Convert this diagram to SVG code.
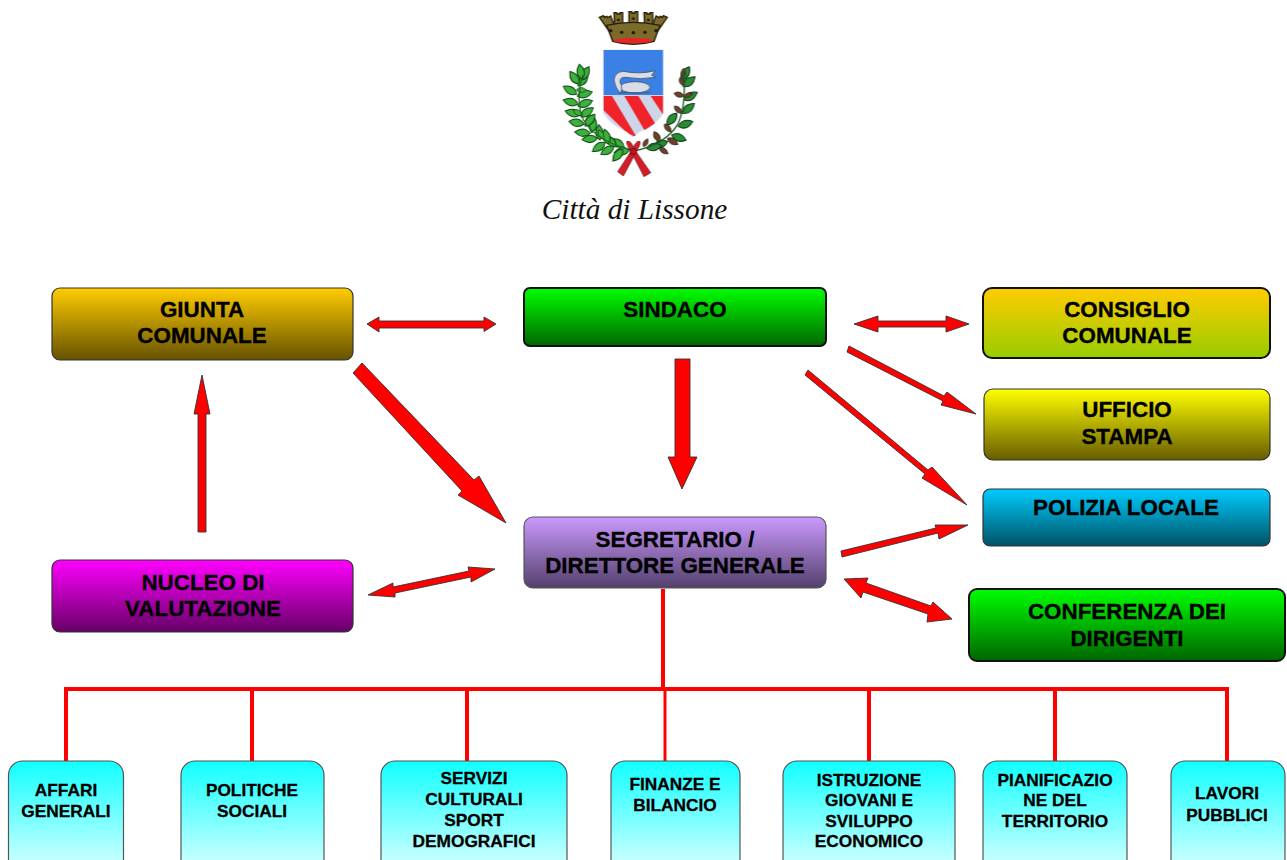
<svg xmlns="http://www.w3.org/2000/svg" width="1287" height="860" viewBox="0 0 1287 860">
<style>
.n{stroke:#333;stroke-width:1.2}
.d{stroke:#111;stroke-width:2}
.c{stroke:#555;stroke-width:1.2}
.t{font-family:"Liberation Sans",Arial,sans-serif;font-weight:700;font-size:22.4px;fill:#000;stroke:#000;stroke-width:.35;text-anchor:middle}
.s{font-size:17.300px;stroke-width:.3}
.a{fill:#f00;stroke:#333;stroke-width:.9;stroke-linejoin:miter}
.w{fill:none;stroke:#f00;stroke-width:4}
.lg{fill:#3cb03c;stroke:#0d4a12;stroke-width:3}
.lb{fill:#6e3f2a;stroke:#1f2c18;stroke-width:3}
.ld{fill:#2c8a34;stroke:#0f3d18;stroke-width:3}
.tw{fill:#7c6a2b;stroke:#241e08;stroke-width:4}
</style>
<defs>
<linearGradient id="g1" x1="0" y1="0" x2="0" y2="1"><stop offset="0" stop-color="#fc0"/><stop offset="1" stop-color="#665200"/></linearGradient>
<linearGradient id="g2" x1="0" y1="0" x2="0" y2="1"><stop offset="0" stop-color="#0f0"/><stop offset="1" stop-color="#060"/></linearGradient>
<linearGradient id="g3" x1="0" y1="0" x2="0" y2="1"><stop offset="0" stop-color="#fc0"/><stop offset="1" stop-color="#9c0"/></linearGradient>
<linearGradient id="g4" x1="0" y1="0" x2="0" y2="1"><stop offset="0" stop-color="#ff0"/><stop offset="1" stop-color="#665c00"/></linearGradient>
<linearGradient id="g5" x1="0" y1="0" x2="0" y2="1"><stop offset="0" stop-color="#0cf"/><stop offset="1" stop-color="#005266"/></linearGradient>
<linearGradient id="g6" x1="0" y1="0" x2="0" y2="1"><stop offset="0" stop-color="#c9f"/><stop offset="1" stop-color="#52406b"/></linearGradient>
<linearGradient id="g7" x1="0" y1="0" x2="0" y2="1"><stop offset="0" stop-color="#f0f"/><stop offset="1" stop-color="#606"/></linearGradient>
<linearGradient id="g8" x1="0" y1="0" x2="0" y2="1"><stop offset="0" stop-color="#1ff"/><stop offset=".86" stop-color="#c4ffff"/></linearGradient>
<clipPath id="sh"><path d="M190,150H370V340Q345,380 300,395L280,412L260,395Q215,378 190,340Z"/></clipPath>
<path id="l" d="M0,0Q20,-22 46,0Q20,22 0,0Z"/>
<filter id="b" x="-5%" y="-5%" width="110%" height="110%"><feGaussianBlur stdDeviation="1.500"/></filter>
</defs>
<g id="crest" transform="translate(540 0) scale(.3333)" filter="url(#b)">
<path class="tw" d="M178,52L190,47L193,52L200,49L203,53L212,48L226,85L208,95Z"/>
<path class="tw" d="M382,52L370,47L367,52L360,49L357,53L348,48L334,85L352,95Z"/>
<path class="tw" d="M222,38H230V42H240V38H248V82H224Z"/>
<path class="tw" d="M312,38H320V42H330V38H338V82H314Z"/>
<path class="tw" d="M267,35H275V39H285V35H293V80H267Z"/>
<path class="tw" d="M200,76Q280,58 360,76L342,124Q280,142 218,124Z"/>
<g fill="#1a1505"><circle cx="212" cy="92" r="5"/><circle cx="245" cy="97" r="5"/><circle cx="280" cy="98" r="5"/><circle cx="315" cy="97" r="5"/><circle cx="348" cy="92" r="5"/><circle cx="235" cy="60" r="4"/><circle cx="280" cy="56" r="4"/><circle cx="325" cy="60" r="4"/></g>
<ellipse cx="280" cy="122" rx="58" ry="8" fill="#ec2226"/>
<path d="M190,150H370V340Q345,380 300,395L280,412L260,395Q215,378 190,340Z" fill="#ccd6e8" stroke="#e4e9f0" stroke-width="3"/>
<g clip-path="url(#sh)">
<rect x="190" y="150" width="180" height="135" fill="#3a80e4"/>
<path d="M190,288H216L290,412L262,400L190,330ZM253,288H295L355,386L320,402ZM332,288H370V345Z" fill="#f0222a"/>
</g>
<g fill="#d8dde6" stroke="#46536a" stroke-width="2.500">
<ellipse cx="285" cy="262" rx="45" ry="17"/>
<path d="M222,240Q224,216 250,214Q300,224 345,212L335,226L348,232Q300,240 255,232Q240,232 240,245Q250,270 240,280Q225,262 222,240Z"/>
<path d="M238,278H330"/>
</g>
<g id="laurel-left">
<g class="lg">
<use href="#l" transform="translate(268,450) rotate(170)"/><use href="#l" transform="translate(252,440) rotate(210)"/><use href="#l" transform="translate(248,448) rotate(130)"/>
<use href="#l" transform="translate(228,440) rotate(225)"/><use href="#l" transform="translate(222,440) rotate(150)"/><use href="#l" transform="translate(205,432) rotate(255)"/>
<use href="#l" transform="translate(195,428) rotate(145)"/><use href="#l" transform="translate(180,420) rotate(265)"/><use href="#l" transform="translate(172,415) rotate(175)"/>
<use href="#l" transform="translate(155,398) rotate(280)"/><use href="#l" transform="translate(150,400) rotate(185)"/><use href="#l" transform="translate(135,378) rotate(310)"/>
<use href="#l" transform="translate(132,372) rotate(190)"/><use href="#l" transform="translate(122,350) rotate(325)"/><use href="#l" transform="translate(120,345) rotate(195)"/>
<use href="#l" transform="translate(114,318) rotate(340)"/><use href="#l" transform="translate(114,312) rotate(195)"/><use href="#l" transform="translate(112,288) rotate(345)"/>
<use href="#l" transform="translate(110,282) rotate(210)"/><use href="#l" transform="translate(114,258) rotate(310)"/><use href="#l" transform="translate(116,252) rotate(235)"/>
<use href="#l" transform="translate(124,240) rotate(300)"/><use href="#l" transform="translate(126,238) rotate(260)"/><use href="#l" transform="translate(108,270) rotate(0) scale(.7)"/>
<use href="#l" transform="translate(100,330) rotate(30) scale(.7)"/><use href="#l" transform="translate(175,390) rotate(60) scale(.7)"/>
</g>
<path d="M275,450Q170,425 130,360Q105,300 128,225" fill="none" stroke="#1f6a22" stroke-width="4"/>
</g>
<g id="laurel-right">
<g class="ld">
<use href="#l" transform="translate(430,260) rotate(320)"/><use href="#l" transform="translate(432,300) rotate(330)"/><use href="#l" transform="translate(428,340) rotate(320)"/>
<use href="#l" transform="translate(415,380) rotate(340)"/><use href="#l" transform="translate(340,440) rotate(340)"/><use href="#l" transform="translate(395,405) rotate(20)"/><use href="#l" transform="translate(425,240) rotate(300)"/><use href="#l" transform="translate(320,445) rotate(350)"/>
<use href="#l" transform="translate(410,340) rotate(130)"/>
</g>
<g class="lb">
<use href="#l" transform="translate(430,205) rotate(90) scale(.65)"/><use href="#l" transform="translate(420,232) rotate(70) scale(.6)"/><use href="#l" transform="translate(402,280) rotate(15) scale(.7)"/>
<use href="#l" transform="translate(403,318) rotate(45) scale(.7)"/><use href="#l" transform="translate(432,290) rotate(340) scale(.6)"/><use href="#l" transform="translate(373,372) rotate(50) scale(.7)"/>
<use href="#l" transform="translate(342,395) rotate(60) scale(.8)"/><use href="#l" transform="translate(382,415) rotate(30) scale(.8)"/><use href="#l" transform="translate(310,440) rotate(300) scale(.6)"/>
<use href="#l" transform="translate(358,443) rotate(35) scale(.7)"/>
</g>
<path d="M288,452Q380,430 415,370Q440,310 430,215" fill="none" stroke="#1c5a22" stroke-width="4"/>
</g>
<path d="M272,455Q255,425 262,423Q278,426 280,446Q284,426 298,423Q306,428 288,455L332,518L312,530L281,470L250,528L233,515Z" fill="#d81e28" stroke="#5a0a10" stroke-width="2"/>
<circle cx="280" cy="455" r="10" fill="#b81520" stroke="#5a0a10" stroke-width="2"/>
</g>
<text x="634.500" y="219" text-anchor="middle" font-family="'Liberation Serif','Times New Roman',serif" font-style="italic" font-size="29.300px" fill="#111">Città di Lissone</text>
<g id="connectors">
<path class="w" d="M663,589V689M66,761V689H1227V761M252,689V761M467,689V761M869,689V761M1055,689V761"/>
<path class="w" style="stroke-width:3" d="M665,689V761"/>
<polygon class="a" points="367,324 379,317 379,321 484,321 484,317 496,324 484,331.500 484,328 379,328 379,332"/>
<polygon class="a" points="362,363 353,373 462,491 458,495 506,523 479,476 474,480"/>
<polygon class="a" points="675,359 690,359 690,457 697,457 682,489 668,457 675,457"/>
<polygon class="a" points="368,595 393,583 393,587 469,571 468,567 495,569 471,582 471,577 395,593 395,597"/>
<polygon class="a" points="198,532 206,532 206,414 210,414 202,375 194,414 198,414"/>
<polygon class="a" points="854,324 878,316 878,321 946,321 946,316 969,324 946,332 946,327 878,327 878,332"/>
<polygon class="a" points="849,346 847,352 943,401 941,405 976,414 947,392 944,396"/>
<polygon class="a" points="808,370 805,375 925,474 922,478 967,505 932,467 928,470"/>
<polygon class="a" points="841,551 842,557 938,533 939,539 968,525 935,525 936,528"/>
<polygon class="a" points="844,579 868,578 866,583 931,606 933,602 952,619 927,622 928,614 863,592 861,598"/>
</g>
<g id="giunta"><rect class="n" x="52" y="288" width="301" height="72" rx="8" fill="url(#g1)"/><text class="t" x="202" y="317">GIUNTA</text><text class="t" x="202" y="343">COMUNALE</text></g>
<g id="sindaco"><rect class="d" x="524" y="288" width="302" height="58" rx="6" fill="url(#g2)"/><text class="t" x="675" y="317">SINDACO</text></g>
<g id="consiglio"><rect class="d" x="983" y="288" width="287" height="70" rx="9" fill="url(#g3)"/><text class="t" x="1127" y="317">CONSIGLIO</text><text class="t" x="1127" y="343">COMUNALE</text></g>
<g id="ufficio"><rect class="n" x="984" y="389" width="286" height="71" rx="9" fill="url(#g4)"/><text class="t" x="1127" y="417">UFFICIO</text><text class="t" x="1127" y="444">STAMPA</text></g>
<g id="polizia"><rect class="n" x="983" y="489" width="287" height="57" rx="7" fill="url(#g5)"/><text class="t" x="1126" y="515">POLIZIA LOCALE</text></g>
<g id="conferenza"><rect class="d" x="969" y="589" width="316" height="72" rx="8" fill="url(#g2)"/><text class="t" x="1127" y="619">CONFERENZA DEI</text><text class="t" x="1127" y="646">DIRIGENTI</text></g>
<g id="segretario"><rect class="c" x="524" y="517" width="302" height="71" rx="9" fill="url(#g6)"/><text class="t" x="675" y="547">SEGRETARIO /</text><text class="t" x="675" y="573">DIRETTORE GENERALE</text></g>
<g id="nucleo"><rect class="n" x="52" y="560" width="301" height="72" rx="8" fill="url(#g7)"/><text class="t" x="203" y="590">NUCLEO DI</text><text class="t" x="203" y="616">VALUTAZIONE</text></g>
<g id="affari"><rect class="c" x="8.500" y="761" width="115" height="115" rx="14" fill="url(#g8)"/><text class="t s" x="66" y="796">AFFARI</text><text class="t s" x="66" y="817">GENERALI</text></g>
<g id="politiche"><rect class="c" x="181" y="761" width="143" height="115" rx="14" fill="url(#g8)"/><text class="t s" x="252" y="796">POLITICHE</text><text class="t s" x="252" y="817">SOCIALI</text></g>
<g id="servizi"><rect class="c" x="381" y="761" width="186" height="115" rx="14" fill="url(#g8)"/><text class="t s" x="474" y="784">SERVIZI</text><text class="t s" x="474" y="805">CULTURALI</text><text class="t s" x="474" y="826">SPORT</text><text class="t s" x="474" y="847">DEMOGRAFICI</text></g>
<g id="finanze"><rect class="c" x="611" y="761" width="129" height="115" rx="14" fill="url(#g8)"/><text class="t s" x="675" y="790">FINANZE E</text><text class="t s" x="675" y="811">BILANCIO</text></g>
<g id="istruzione"><rect class="c" x="783" y="761" width="172" height="115" rx="14" fill="url(#g8)"/><text class="t s" x="869" y="786">ISTRUZIONE</text><text class="t s" x="869" y="806">GIOVANI E</text><text class="t s" x="869" y="827">SVILUPPO</text><text class="t s" x="869" y="847">ECONOMICO</text></g>
<g id="pianificazione"><rect class="c" x="983" y="761" width="144" height="115" rx="14" fill="url(#g8)"/><text class="t s" x="1055" y="786">PIANIFICAZIO</text><text class="t s" x="1055" y="806">NE DEL</text><text class="t s" x="1055" y="827">TERRITORIO</text></g>
<g id="lavori"><rect class="c" x="1171" y="761" width="114" height="115" rx="14" fill="url(#g8)"/><text class="t s" x="1227" y="799">LAVORI</text><text class="t s" x="1227" y="821">PUBBLICI</text></g>
</svg>
